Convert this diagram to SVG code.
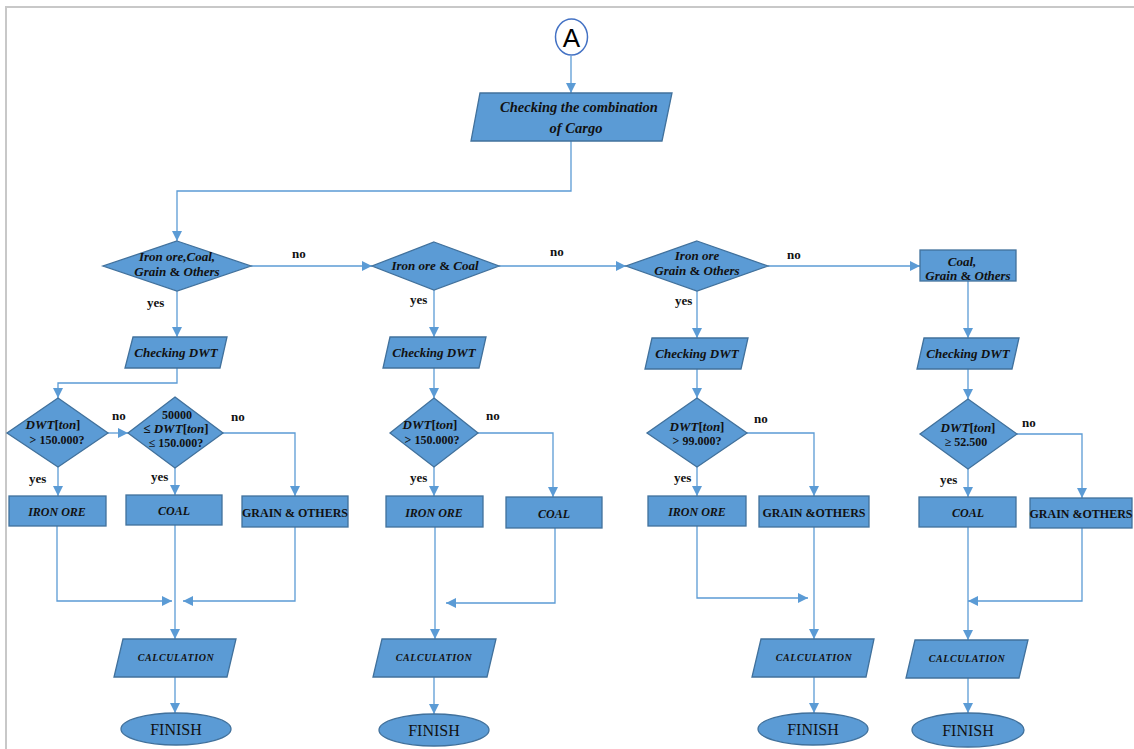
<svg xmlns="http://www.w3.org/2000/svg" width="1134" height="749" viewBox="0 0 1134 749">
  <style>
    .shape { fill: #5b9bd5; stroke: #41719c; stroke-width: 1.3; }
    .conn { fill: none; stroke: #5b9bd5; stroke-width: 1.3; }
    .lbl { font-family: "Liberation Serif", "DejaVu Serif", serif; font-weight: bold; font-style: italic; fill: #111; text-anchor: middle; }
    .up { font-style: normal; }
    .caps { font-family: "Liberation Serif", "DejaVu Serif", serif; font-weight: bold; fill: #111; text-anchor: middle; font-size: 12px; }
    .yn { font-family: "Liberation Serif", "DejaVu Serif", serif; font-weight: bold; fill: #111; font-size: 13px; }
    .fin { font-family: "Liberation Serif", "DejaVu Serif", serif; fill: #111; text-anchor: middle; font-size: 16px; }
  </style>
  <defs>
    <marker id="arrow" viewBox="0 0 10 10" refX="10" refY="5" markerWidth="10" markerHeight="10" markerUnits="userSpaceOnUse" orient="auto">
      <path d="M0,0 L10,5 L0,10 Z" fill="#5b9bd5"/>
    </marker>
  </defs>

  <!-- page frame -->
  <g id="frame" stroke="#c8c8c8" stroke-width="2" fill="none">
    <path d="M6,749 V7 H1134"/>
  </g>

  <!-- connectors -->
  <g id="connectors" class="conn" marker-end="url(#arrow)">
    <path d="M571,56 V93"/>
    <path d="M571,141 V191 H177 V241"/>
    <path d="M251,266 H372"/>
    <path d="M499,266 H626"/>
    <path d="M768,266 H920"/>
    <path d="M177,291 V337"/>
    <path d="M434,290 V337"/>
    <path d="M697,291 V338"/>
    <path d="M968,281 V338"/>
    <!-- column 1 -->
    <path d="M177,368 V383 H58 V398"/>
    <path d="M108,433 H128"/>
    <path d="M58,467 V496"/>
    <path d="M175,468 V495"/>
    <path d="M223,433 H295 V496"/>
    <path d="M57,526 V601 H172"/>
    <path d="M295,527 V601 H183"/>
    <path d="M175,525 V639"/>
    <path d="M175,677 V713"/>
    <!-- column 2 -->
    <path d="M434,368 V398"/>
    <path d="M434,467 V496"/>
    <path d="M478,433 H553 V497"/>
    <path d="M435,527 V639"/>
    <path d="M555,528 V603 H446"/>
    <path d="M434,677 V714"/>
    <!-- column 3 -->
    <path d="M697,369 V398"/>
    <path d="M697,467 V496"/>
    <path d="M747,433 H814 V496"/>
    <path d="M697,526 V598 H808"/>
    <path d="M814,527 V639"/>
    <path d="M814,677 V713"/>
    <!-- column 4 -->
    <path d="M968,369 V399"/>
    <path d="M968,469 V497"/>
    <path d="M1017,434 H1082 V498"/>
    <path d="M1082,528 V601 H968"/>
    <path d="M968,527 V640"/>
    <path d="M968,678 V713"/>
  </g>

  <!-- branch labels -->
  <g id="branch-labels" class="yn">
    <text x="292" y="258">no</text>
    <text x="550" y="256">no</text>
    <text x="787" y="259">no</text>
    <text x="147" y="307">yes</text>
    <text x="410" y="304">yes</text>
    <text x="675" y="305">yes</text>
    <text x="112" y="420">no</text>
    <text x="231" y="421">no</text>
    <text x="486" y="420">no</text>
    <text x="754" y="423">no</text>
    <text x="1022" y="427">no</text>
    <text x="29" y="483">yes</text>
    <text x="151" y="481">yes</text>
    <text x="410" y="482">yes</text>
    <text x="674" y="482">yes</text>
    <text x="940" y="484">yes</text>
  </g>

  <!-- start connector -->
  <g id="start-A">
    <ellipse cx="571.5" cy="37" rx="16" ry="18" fill="#fff" stroke="#4472c4" stroke-width="1.5"/>
    <text x="571.5" y="47" font-family="Liberation Sans, Arial, sans-serif" font-size="26" text-anchor="middle" fill="#000">A</text>
  </g>

  <g id="check-cargo">
    <polygon class="shape" points="480,93 672,93 662,141 471,141"/>
    <text class="lbl" x="579" y="112" font-size="14.5">Checking the combination</text>
    <text class="lbl" x="576" y="133" font-size="14.5">of Cargo</text>
  </g>

  <!-- first row decisions -->
  <g id="d-all">
    <polygon class="shape" points="177,241 251,266 177,291 103,266"/>
    <text class="lbl" x="177" y="261" font-size="13">Iron ore,Coal,</text>
    <text class="lbl" x="177" y="276" font-size="13">Grain <tspan class="up">&amp;</tspan> Others</text>
  </g>
  <g id="d-iron-coal">
    <polygon class="shape" points="434,242 499,266 434,290 372,266"/>
    <text class="lbl" x="435" y="269.5" font-size="13">Iron ore <tspan class="up">&amp;</tspan> Coal</text>
  </g>
  <g id="d-iron-grain">
    <polygon class="shape" points="697,241 768,266 697,291 626,266"/>
    <text class="lbl" x="697" y="260" font-size="13">Iron ore</text>
    <text class="lbl" x="697" y="275" font-size="13">Grain <tspan class="up">&amp;</tspan> Others</text>
  </g>
  <g id="b-coal-grain">
    <rect class="shape" x="920" y="250" width="96" height="31"/>
    <text class="lbl" x="962" y="266" font-size="13">Coal,</text>
    <text class="lbl" x="968" y="280" font-size="13">Grain <tspan class="up">&amp;</tspan> Others</text>
  </g>

  <!-- DWT checks -->
  <g id="dwt-1">
    <polygon class="shape" points="133,337 227,337 220,368 125,368"/>
    <text class="lbl" x="176" y="356.5" font-size="13">Checking DWT</text>
  </g>
  <g id="dwt-2">
    <polygon class="shape" points="390,337 486,337 479,368 383,368"/>
    <text class="lbl" x="434" y="356.5" font-size="13">Checking DWT</text>
  </g>
  <g id="dwt-3">
    <polygon class="shape" points="652,338 748,338 741,369 645,369"/>
    <text class="lbl" x="697" y="357.5" font-size="13">Checking DWT</text>
  </g>
  <g id="dwt-4">
    <polygon class="shape" points="924,338 1019,338 1012,369 917,369"/>
    <text class="lbl" x="968" y="357.5" font-size="13">Checking DWT</text>
  </g>

  <!-- column 1 -->
  <g id="q1-150k">
    <polygon class="shape" points="58,398 108,433 58,467 7,433"/>
    <text class="lbl" x="53" y="429" font-size="13">DWT<tspan class="up">[</tspan>ton<tspan class="up">]</tspan></text>
    <text class="caps" x="57" y="444" font-size="13">&gt;  150.000?</text>
  </g>
  <g id="q1-range">
    <polygon class="shape" points="175,397 223,433 175,468 128,433"/>
    <text class="caps" x="177" y="419" font-size="13">50000</text>
    <text class="lbl" x="176" y="433" font-size="13"><tspan class="up">≤ </tspan>DWT<tspan class="up">[</tspan>ton<tspan class="up">]</tspan></text>
    <text class="caps" x="176" y="447" font-size="13">≤ 150.000?</text>
  </g>
  <g id="r1-iron">
    <rect class="shape" x="9" y="496" width="97" height="30"/>
    <text class="lbl" x="57" y="516" font-size="12">IRON ORE</text>
  </g>
  <g id="r1-coal">
    <rect class="shape" x="126" y="495" width="96" height="30"/>
    <text class="lbl" x="174" y="515" font-size="12">COAL</text>
  </g>
  <g id="r1-grain">
    <rect class="shape" x="242" y="496" width="106" height="31"/>
    <text class="caps" x="295" y="517" font-size="11.5">GRAIN &amp; OTHERS</text>
  </g>
  <g id="calc-1">
    <polygon class="shape" points="123,639 236,639 227,677 114,677"/>
    <text class="lbl" x="176" y="661" font-size="10" letter-spacing="0.6">CALCULATION</text>
  </g>
  <g id="finish-1">
    <ellipse class="shape" cx="176" cy="729" rx="55" ry="16"/>
    <text class="fin" x="176" y="735">FINISH</text>
  </g>

  <!-- column 2 -->
  <g id="q2-150k">
    <polygon class="shape" points="434,398 478,433 434,467 390,433"/>
    <text class="lbl" x="430" y="429" font-size="13">DWT<tspan class="up">[</tspan>ton<tspan class="up">]</tspan></text>
    <text class="caps" x="432" y="444" font-size="13">&gt; 150.000?</text>
  </g>
  <g id="r2-iron">
    <rect class="shape" x="386" y="496" width="97" height="31"/>
    <text class="lbl" x="434" y="516.5" font-size="12">IRON ORE</text>
  </g>
  <g id="r2-coal">
    <rect class="shape" x="506" y="497" width="96" height="31"/>
    <text class="lbl" x="554" y="517.5" font-size="12">COAL</text>
  </g>
  <g id="calc-2">
    <polygon class="shape" points="382,639 496,639 487,677 373,677"/>
    <text class="lbl" x="434" y="661" font-size="10" letter-spacing="0.6">CALCULATION</text>
  </g>
  <g id="finish-2">
    <ellipse class="shape" cx="434" cy="730" rx="55" ry="16"/>
    <text class="fin" x="434" y="736">FINISH</text>
  </g>

  <!-- column 3 -->
  <g id="q3-99k">
    <polygon class="shape" points="697,398 747,433 697,467 647,433"/>
    <text class="lbl" x="697" y="431" font-size="13">DWT<tspan class="up">[</tspan>ton<tspan class="up">]</tspan></text>
    <text class="caps" x="697" y="445" font-size="13">&gt; 99.000?</text>
  </g>
  <g id="r3-iron">
    <rect class="shape" x="648" y="496" width="98" height="30"/>
    <text class="lbl" x="697" y="516" font-size="12">IRON ORE</text>
  </g>
  <g id="r3-grain">
    <rect class="shape" x="759" y="496" width="110" height="31"/>
    <text class="caps" x="814" y="517" font-size="11.5">GRAIN &amp;OTHERS</text>
  </g>
  <g id="calc-3">
    <polygon class="shape" points="761,639 874,639 866,677 752,677"/>
    <text class="lbl" x="814" y="661" font-size="10" letter-spacing="0.6">CALCULATION</text>
  </g>
  <g id="finish-3">
    <ellipse class="shape" cx="813" cy="729" rx="55" ry="16"/>
    <text class="fin" x="813" y="735">FINISH</text>
  </g>

  <!-- column 4 -->
  <g id="q4-52k">
    <polygon class="shape" points="968,399 1017,434 968,469 920,434"/>
    <text class="lbl" x="968" y="432" font-size="13">DWT<tspan class="up">[</tspan>ton<tspan class="up">]</tspan></text>
    <text class="caps" x="966" y="446" font-size="13">≥ 52.500</text>
  </g>
  <g id="r4-coal">
    <rect class="shape" x="919" y="497" width="97" height="30"/>
    <text class="lbl" x="968" y="517" font-size="12">COAL</text>
  </g>
  <g id="r4-grain">
    <rect class="shape" x="1030" y="498" width="102" height="30"/>
    <text class="caps" x="1081" y="518" font-size="11.5">GRAIN &amp;OTHERS</text>
  </g>
  <g id="calc-4">
    <polygon class="shape" points="915,640 1028,640 1019,678 906,678"/>
    <text class="lbl" x="967" y="662" font-size="10" letter-spacing="0.6">CALCULATION</text>
  </g>
  <g id="finish-4">
    <ellipse class="shape" cx="968" cy="730" rx="56" ry="17"/>
    <text class="fin" x="968" y="736">FINISH</text>
  </g>
</svg>
